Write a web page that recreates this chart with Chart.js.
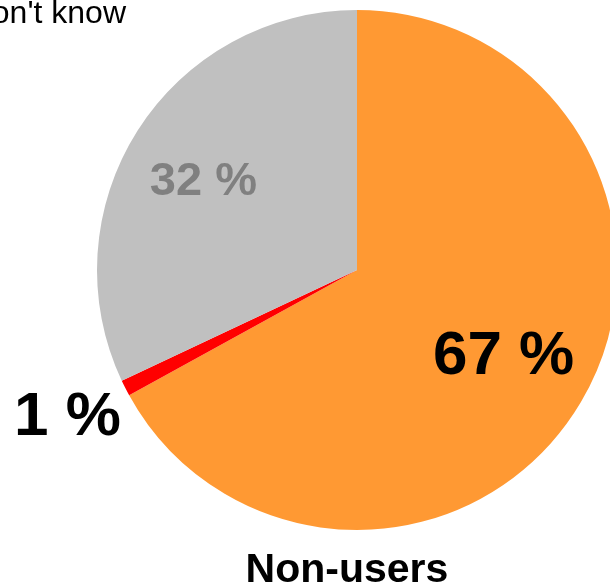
<!DOCTYPE html>
<html>
<head>
<meta charset="utf-8">
<script src="https://cdn.jsdelivr.net/npm/chart.js@4"></script>
<style>
  html, body { margin: 0; padding: 0; background: #fff; overflow: hidden; width: 610px; height: 585px; }
  #wrap { position: relative; width: 610px; height: 585px; overflow: hidden; }
  canvas { position: absolute; left: 0; top: 0; }
</style>
</head>
<body>
<div id="wrap"><canvas id="myChart" width="714" height="585"></canvas></div>
<script>
// datos del grafico
const categorias = ['Non-users', 'Users', "Don't know"];
const valores = [67, 1, 32];
const colores = ['#FF9933', '#FF0000', '#C0C0C0'];

// estilo de las etiquetas de porcentaje
const etiquetaColor = ['#000000', '#000000', '#808080'];
const etiquetaFuente = ['bold 62px "Liberation Sans", Arial', 'bold 62px "Liberation Sans", Arial', 'bold 47px "Liberation Sans", Arial'];
const etiquetaRadio = [0.655, 1.25, 0.68];
const etiquetaGiro = [0, 0, -2.7]; // grados

// plugin para dibujar los textos
const textos = {
    id: 'textos',
    afterDatasetsDraw(chart) {
        const ctx = chart.ctx;
        const meta = chart.getDatasetMeta(0);
        ctx.save();
        ctx.textAlign = 'center';
        ctx.textBaseline = 'middle';
        meta.data.forEach((arc, i) => {
            const p = arc.getProps(['x', 'y', 'startAngle', 'endAngle', 'outerRadius'], true);
            const mid = (p.startAngle + p.endAngle) / 2 + etiquetaGiro[i] * Math.PI / 180;
            const r = p.outerRadius * etiquetaRadio[i];
            ctx.font = etiquetaFuente[i];
            ctx.fillStyle = etiquetaColor[i];
            ctx.fillText(valores[i] + ' %', p.x + Math.cos(mid) * r, p.y + Math.sin(mid) * r);
        });
        const a = meta.data[0].getProps(['x', 'y', 'outerRadius'], true);
        ctx.fillStyle = '#000';
        // titulo inferior
        ctx.font = 'bold 41px "Liberation Sans", Arial';
        ctx.textBaseline = 'alphabetic';
        ctx.fillText(categorias[0], a.x - 10, a.y + a.outerRadius + 52);
        // titulo superior (cortado en el original)
        ctx.font = '32px "Liberation Sans", Arial';
        ctx.textAlign = 'right';
        ctx.fillText(categorias[2], a.x - 231, a.y - a.outerRadius + 13);
        ctx.restore();
    }
};

let ctx = document.getElementById('myChart').getContext('2d');

let miGrafico = new Chart(ctx, {
    type: 'pie',
    data: {
        labels: categorias,
        datasets: [{
            data: valores,
            backgroundColor: colores,
            borderWidth: 0
        }]
    },
    options: {
        responsive: false,
        animation: false,
        layout: { padding: { left: 97, right: 97, top: 10, bottom: 55 } },
        plugins: {
            legend: { display: false },
            tooltip: { enabled: false }
        }
    },
    plugins: [textos]
});
</script>
</body>
</html>
